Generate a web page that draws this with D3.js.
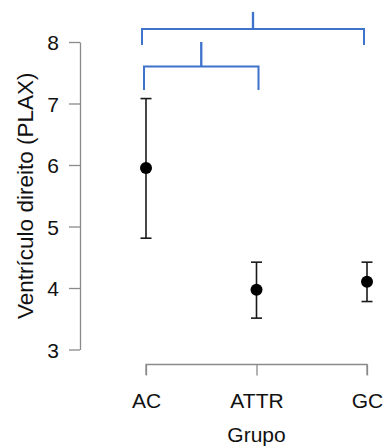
<!DOCTYPE html>
<html>
<head>
<meta charset="utf-8">
<script src="https://cdn.jsdelivr.net/npm/d3@7"></script>
<style>
  body { margin: 0; background: #fff; }
  svg { display: block; }
</style>
</head>
<body>
<script>
const groups = ["AC", "ATTR", "GC"];
const means = [5.95, 3.97, 4.10];
const lower = [4.81, 3.51, 3.78];
const upper = [7.08, 4.42, 4.42];
const yTicks = [3, 4, 5, 6, 7, 8];

// significance brackets: [from group, to group, bar level, leg end, stub top]
const brackets = [
    {from: "AC", to: "GC", bar: 8.21, leg: 7.95, top: 8.49, shiftL: -4, shiftR: -3},
    {from: "AC", to: "ATTR", bar: 7.60, leg: 7.22, top: 8.0, shiftL: -2, shiftR: 2}
];

const width = 385, height = 447;
const font = "'Liberation Sans', Arial, sans-serif";

const svg = d3.select("body").append("svg")
    .attr("width", width)
    .attr("height", height)
    .attr("font-family", font);

const x = d3.scalePoint()
    .domain(groups)
    .range([146, 367]);

const y = d3.scaleLinear()
    .domain([3, 8])
    .range([349.5, 42]);

// y axis
const yAxis = svg.append("g")
    .attr("transform", "translate(80,0)")
    .call(d3.axisLeft(y).tickValues(yTicks).tickFormat(d3.format("d"))
        .tickSize(11).tickPadding(10).tickSizeOuter(0))
    .attr("font-family", font)
    .attr("font-size", 21);

yAxis.select(".domain").attr("stroke", "#8a8a8a").attr("stroke-width", 1.3);
yAxis.selectAll(".tick line").attr("stroke", "#8a8a8a").attr("stroke-width", 1.3);
yAxis.selectAll(".tick text")
    .attr("fill", "#111")
    .attr("dy", "0.36em");

// x axis
const xAxis = svg.append("g")
    .attr("transform", "translate(0,364.5)")
    .call(d3.axisBottom(x).tickSize(11).tickPadding(18).tickSizeOuter(0))
    .attr("font-family", font)
    .attr("font-size", 21);

xAxis.select(".domain")
    .attr("d", `M${x("AC")},10.5V0H${x("GC")}V10.5`)
    .attr("stroke", "#8a8a8a").attr("stroke-width", 1.3);
xAxis.selectAll(".tick line").attr("stroke", "#8a8a8a").attr("stroke-width", 1.3);
xAxis.selectAll(".tick text")
    .attr("fill", "#111");

// axis titles
svg.append("text")
    .attr("x", x("ATTR"))
    .attr("y", 441.5)
    .attr("text-anchor", "middle")
    .attr("font-size", 21)
    .attr("fill", "#111")
    .text("Grupo");

svg.append("text")
    .attr("transform", `translate(33,${(y(3) + y(8)) / 2}) rotate(-90)`)
    .attr("text-anchor", "middle")
    .attr("font-size", 22.5)
    .attr("fill", "#111")
    .text("Ventrículo direito (PLAX)");

// error bars
const bars = svg.append("g")
    .selectAll("g")
    .data(groups.map((g, i) => ({g, m: means[i], lo: lower[i], hi: upper[i]})))
    .join("g");

bars.append("line")
    .attr("x1", d => x(d.g)).attr("x2", d => x(d.g))
    .attr("y1", d => y(d.lo)).attr("y2", d => y(d.hi))
    .attr("stroke", "#1a1a1a").attr("stroke-width", 1.6);

bars.selectAll(".cap")
    .data(d => [{g: d.g, v: d.lo}, {g: d.g, v: d.hi}])
    .join("line")
    .attr("class", "cap")
    .attr("x1", d => x(d.g) - 5.5).attr("x2", d => x(d.g) + 5.5)
    .attr("y1", d => y(d.v)).attr("y2", d => y(d.v))
    .attr("stroke", "#1a1a1a").attr("stroke-width", 1.6);

bars.append("circle")
    .attr("cx", d => x(d.g))
    .attr("cy", d => y(d.m))
    .attr("r", 6)
    .attr("fill", "#000");

// comparison brackets
const br = svg.append("g")
    .attr("fill", "none")
    .attr("stroke", "#3f72cb")
    .attr("stroke-width", 2);

brackets.forEach(b => {
    const x0 = x(b.from) + b.shiftL, x1 = x(b.to) + b.shiftR;
    br.append("path")
        .attr("d", `M${x0},${y(b.leg)}V${y(b.bar)}H${x1}V${y(b.leg)}`);
    br.append("line")
        .attr("x1", (x0 + x1) / 2).attr("x2", (x0 + x1) / 2)
        .attr("y1", y(b.bar)).attr("y2", y(b.top))
        .attr("stroke-width", 2.3);
});
</script>
</body>
</html>
